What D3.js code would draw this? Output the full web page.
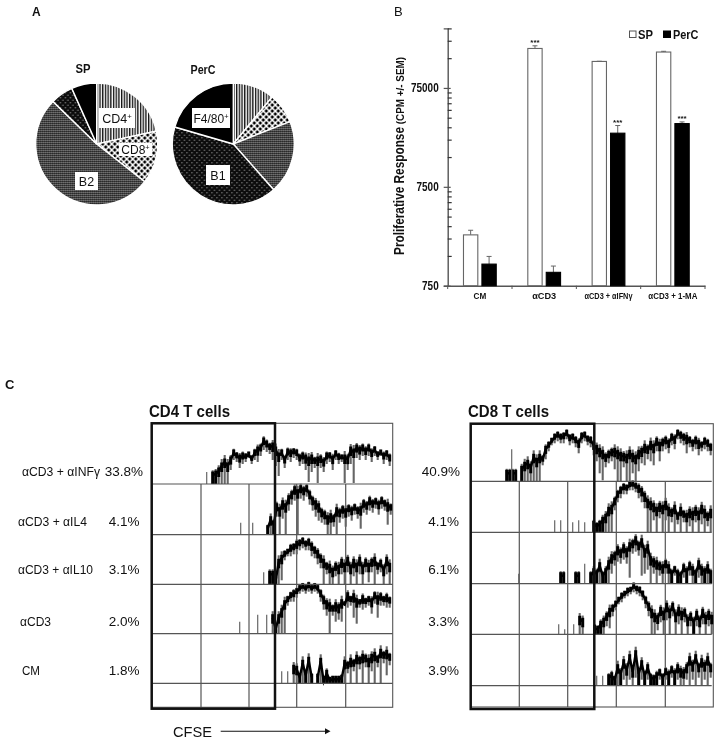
<!DOCTYPE html>
<html><head><meta charset="utf-8">
<script src="https://cdnjs.cloudflare.com/ajax/libs/d3/7.8.5/d3.min.js"></script>
<style>
html,body{margin:0;padding:0;background:#fff}
svg{display:block;filter:blur(0.45px)}
text{font-family:"Liberation Sans",Arial,sans-serif;fill:#111}
</style></head><body><div id="c"></div>
<script>
// ---------- Panel A ----------
const spLabels=["CD4","CD8","B2","B1","F4/80"];
const spValues=[21.6,14,51.7,6,6.7];
const percValues=[11,8,19.5,41,20.5];
// ---------- Panel B ----------
const conditions=["CM","αCD3","αCD3 + αIFNγ","αCD3 + 1-MA"];
const conditionWidths=[12.7,24,48,49];
const tissues=["SP","PerC"];
const spMeans=[2449,188000,139000,173000];
const spTops=[2727,200000,139600,176000];
const percMeans=[1240,1024,26150,32700];
const percTops=[1483,1185,31250,34000];
const spSignif=[false,true,false,false];
const percSignif=[false,false,true,true];
const majorTicks=[750,7500,75000];
const minorTicks=[1500,2250,3000,3750,4500,5250,6000,6750,15000,22500,30000,37500,45000,52500,60000,67500,150000,225000,300000];
// ---------- Panel C ----------
const treatments=["αCD3 + αINFγ","αCD3 + αIL4","αCD3 + αIL10","αCD3","CM"];
const cd4Percent=["33.8%","4.1%","3.1%","2.0%","1.8%"];
const cd8Percent=["40.9%","4.1%","6.1%","3.3%","3.9%"];
// histogram heights read every 3 channels; first = first channel with events
const cd4Start=[55,89,112,88,130];
const cd4Core=[
[12,0,11,12,15,20,24,20,26,33,30,28,30,29,31,27,33,36,38,45,42,39,40,36,30,33,26,34,33,34,33,28,30,28,26,28,25,26,27,24,30,30,27,32,29,28,28,27,36,34,38,36,38,35,38,33,36,31,33,30,32,28],
[12,0,0,0,12,0,0,0,0,8,17,12,30,26,33,30,38,42,47,44,48,46,48,42,36,33,30,24,22,18,20,18,26,24,27,25,28,26,29,26,27,33,31,36,33,35,32,36,33,31,29],
[12,0,12,12,6,24,28,32,34,38,39,42,43,45,42,44,40,36,33,28,24,20,19,15,20,18,24,20,26,18,24,20,26,18,24,20,24,26,20,23,16,26,20],
[12,0,0,0,0,0,19,0,0,19,0,18,7,18,24,32,36,40,42,44,47,49,47,50,47,49,47,42,36,32,30,27,30,28,33,31,40,36,39,34,33,37,34,36,34,40,37,39,36,38,35],
[12,0,12,0,17,16,8,22,10,25,8,0,8,24,4,12,5,6,6,6,7,22,20,24,22,27,25,28,27,24,28,30,26,33,30,32,28]];
const cd4Dip=[
[0,0,0,0,0,0,0,0,14,24,22,16,20,22,26,20,24,22,28,34,32,30,24,18,8,24,16,24,22,26,24,18,20,14,2,12,16,1,16,12,20,22,14,24,20,22,1,14,20,1,26,24,28,24,28,22,28,24,28,20,24,18],
[0,0,0,0,0,0,0,0,0,0,0,0,18,0,16,0,24,30,34,0,36,34,38,30,24,18,14,12,10,0,0,8,0,12,16,8,18,14,20,16,6,22,20,24,22,26,20,26,24,10,20],
[0,0,0,0,0,0,4,24,28,28,30,30,34,36,34,34,28,26,20,16,0,10,0,0,8,0,10,0,12,0,8,0,10,0,12,2,12,0,10,12,0,10,0],
[0,0,0,0,0,0,0,0,0,0,0,0,0,0,0,0,28,32,32,36,40,42,40,42,40,42,40,32,24,18,0,18,12,14,12,28,26,28,16,10,26,24,26,28,20,30,16,28,28,26,26],
[0,0,0,0,0,0,0,0,0,0,0,0,0,0,0,0,0,0,0,0,0,0,10,0,12,0,14,0,16,0,12,0,16,0,20,8,18]];
const cd8Start=[36,84,48,88,126];
const cd8Core=[
[10,10,10,10,0,14,18,20,16,26,22,26,24,34,38,42,46,48,46,47,50,45,46,43,40,47,48,44,43,38,35,32,30,26,29,31,32,30,28,27,26,30,27,25,30,32,36,34,39,36,42,38,41,43,40,46,44,50,48,46,45,43,40,43,40,38,42,40,36],
[12,0,12,0,0,0,10,0,12,0,10,0,0,10,8,10,14,17,24,26,33,40,44,47,46,49,50,48,46,43,38,32,30,28,24,28,26,30,24,22,26,18,24,20,18,22,20,24,20,26,22,18,22],
[10,0,0,0,0,0,0,0,0,0,0,0,0,0,10,10,0,0,0,10,10,0,20,0,10,14,12,20,10,14,22,28,30,36,33,38,34,40,42,46,40,44,34,38,26,24,22,20,18,22,18,12,16,12,10,18,14,20,16,12,22,16,14,18,12],
[10,0,5,0,0,10,0,17,15,0,0,0,8,7,12,15,20,25,28,32,36,40,42,45,46,50,47,46,42,36,30,24,20,18,26,22,30,24,30,20,26,22,24,16,20,14,22,15,24,18,22,18],
[10,0,10,0,10,12,8,20,14,25,18,30,16,34,14,24,12,20,10,9,12,15,10,16,13,18,14,20,16,15,20,28,22,30,20,26,22,28,20]];
const cd8Dip=[
[0,0,0,0,0,0,0,0,0,0,0,0,16,22,30,36,38,40,38,38,42,36,38,34,28,38,40,36,34,26,20,8,1,14,18,20,12,0,0,14,0,0,8,0,10,18,16,22,20,16,30,20,30,32,28,36,32,42,38,36,28,34,30,32,26,30,32,30,26],
[0,0,0,0,0,0,0,0,0,0,0,0,0,0,0,0,0,0,0,0,22,30,34,38,38,42,42,40,34,30,24,0,0,12,0,14,0,12,0,10,0,8,0,10,0,6,0,10,0,8,0,6,0],
[0,0,0,0,0,0,0,0,0,0,0,0,0,0,0,0,0,0,0,0,0,0,0,0,0,0,0,0,0,0,0,10,18,22,20,24,20,6,30,32,28,8,10,14,0,10,0,8,0,10,0,0,8,0,0,6,0,8,0,0,6,0,0,0,0],
[0,0,0,0,0,0,0,0,0,0,0,0,0,0,0,0,8,6,18,24,30,32,36,38,40,42,40,38,34,26,18,0,0,4,12,0,14,0,18,0,10,0,12,0,8,0,8,0,10,0,8,0],
[0,0,0,0,0,0,0,0,0,6,0,6,0,8,0,6,0,6,0,0,0,6,0,6,0,8,0,6,0,0,6,0,6,0,8,0,6,0,8]];
const cd8SpikeChannel=[41], cd8SpikeHeight=[32];

// ---------- layout ----------
const W=721,H=744;
const svg=d3.select("#c").append("svg").attr("width",W).attr("height",H);
const defs=svg.append("defs");
function pat(id,w,h,bg,draw){
  const p=defs.append("pattern").attr("id",id).attr("patternUnits","userSpaceOnUse").attr("width",w).attr("height",h);
  p.append("rect").attr("width",w).attr("height",h).attr("fill",bg);
  draw(p);
}
pat("stripes",2.7,3,"#fff",p=>p.append("rect").attr("width",1.35).attr("height",3).attr("fill","#111"));
pat("diamonds",6,6,"#fff",p=>{
  [[0,0],[6,0],[0,6],[6,6],[3,3]].forEach(c=>p.append("path")
    .attr("d",`M${c[0]-1.9},${c[1]}L${c[0]},${c[1]-1.9}L${c[0]+1.9},${c[1]}L${c[0]},${c[1]+1.9}Z`).attr("fill","#000"));
});
pat("gray",2,2,"#4a4a4a",p=>{
  p.append("rect").attr("width",1).attr("height",1).attr("fill","#7f7f7f");
  p.append("rect").attr("x",1).attr("y",1).attr("width",1).attr("height",1).attr("fill","#1c1c1c");
});
pat("dots",5,5,"#0c0c0c",p=>{
  [[1.2,1.2],[3.7,3.7]].forEach(c=>p.append("circle").attr("cx",c[0]).attr("cy",c[1]).attr("r",.7).attr("fill","#8c8c8c"));
});
const sliceFills=["url(#stripes)","url(#diamonds)","url(#gray)","url(#dots)","#000"];

// ---------- A ----------
const txt=(x,y,s,o={})=>{
  const t=svg.append("text").attr("x",x).attr("y",y).text(s)
    .attr("font-size",o.size||12).attr("font-weight",o.weight||"normal").attr("text-anchor",o.anchor||"start");
  if(o.len){t.attr("textLength",o.len).attr("lengthAdjust","spacingAndGlyphs");}
  return t;
};
txt(32,16,"A",{size:12,weight:"bold"});
txt(394,16,"B",{size:13});
txt(5,389,"C",{size:13,weight:"bold"});
const pie=d3.pie().sort(null);
const arc=d3.arc().innerRadius(0).outerRadius(61);
function drawPie(vals,cx,cy){
  const g=svg.append("g").attr("transform",`translate(${cx},${cy})`);
  g.selectAll("path").data(pie(vals)).join("path").attr("d",arc)
    .attr("fill",(d,i)=>sliceFills[i]).attr("stroke","#fff").attr("stroke-width",1.4);
}
drawPie(spValues,96.7,144);
drawPie(percValues,233.3,144);
txt(83,73,"SP",{size:12,weight:"bold",anchor:"middle",len:15});
txt(203,74,"PerC",{size:12,weight:"bold",anchor:"middle",len:25});
function box(x,y,w,h,label,sup,size){
  svg.append("rect").attr("x",x).attr("y",y).attr("width",w).attr("height",h).attr("fill","#fff");
  const t=svg.append("text").attr("x",x+w/2).attr("y",y+h/2+4.5).attr("text-anchor","middle").attr("font-size",size);
  t.append("tspan").text(label);
  if(sup)t.append("tspan").text("+").attr("font-size",size*.62).attr("dy",-4);
}
box(99,108,36,20,spLabels[0],true,12.5);
box(119,143,33,13,spLabels[1],true,12);
box(75,172,23,18,"B2",false,12.5);
box(192,108,38,20,spLabels[4],true,12);
box(206,165,24,20,spLabels[3],false,12.5);

// ---------- B ----------
const y=d3.scaleLog().domain([750,300000]).range([285.7,28.4]);
const x0=d3.scaleBand().domain(conditions).range([447.7,705]);
const x1=d3.scaleBand().domain(tissues).range([0,x0.bandwidth()]).paddingInner(.223).paddingOuter(.856);
const axisCol="#555";
const majG=svg.append("g").attr("transform","translate(447.7,0)")
  .call(d3.axisLeft(y).tickValues(majorTicks).tickSize(4).tickFormat(d3.format("d")));
majG.selectAll(".domain").attr("stroke",axisCol).attr("stroke-width",1.4);
majG.selectAll("line").attr("stroke",axisCol).attr("x2",-4).attr("x1",3).attr("stroke-width",1.2);
majG.selectAll("text").attr("font-size",12.5).attr("font-weight","bold").attr("x",-9).attr("font-family",'"Liberation Sans"')
  .each(function(d){d3.select(this).attr("textLength",String(d).length*5.55).attr("lengthAdjust","spacingAndGlyphs");});
const minG=svg.append("g").attr("transform","translate(447.7,0)")
  .call(d3.axisRight(y).tickValues(minorTicks).tickSize(4).tickFormat(""));
minG.select(".domain").remove();
minG.selectAll("line").attr("stroke","#333").attr("stroke-width",1.2);
const xAx=svg.append("g").attr("transform","translate(0,285.7)")
  .call(d3.axisBottom(x0).tickSize(0).tickPadding(7));
xAx.select(".domain").attr("stroke",axisCol).attr("stroke-width",1.4);
xAx.selectAll("text").attr("font-size",9).attr("font-weight","bold").attr("font-family",'"Liberation Sans"')
  .each(function(d,i){d3.select(this).attr("textLength",conditionWidths[i]).attr("lengthAdjust","spacingAndGlyphs");});
svg.append("g").selectAll("line").data([...conditions.map(c=>x0(c)),x0.range()[1]]).join("line")
  .attr("x1",d=>d).attr("x2",d=>d).attr("y1",285.7).attr("y2",289).attr("stroke",axisCol);
const bars=[];
conditions.forEach((c,i)=>{
  bars.push({c,t:"SP",v:spMeans[i],top:spTops[i],sig:spSignif[i]});
  bars.push({c,t:"PerC",v:percMeans[i],top:percTops[i],sig:percSignif[i]});
});
const bx=d=>x0(d.c)+x1(d.t);
const cx=d=>bx(d)+x1.bandwidth()/2;
svg.append("g").selectAll("path").data(bars).join("path")
  .attr("d",d=>`M${cx(d)},${y(d.v)}V${y(d.top)}M${cx(d)-2.5},${y(d.top)}H${cx(d)+2.5}`)
  .attr("stroke","#666").attr("fill","none");
svg.append("g").selectAll("rect").data(bars).join("rect")
  .attr("x",bx).attr("width",x1.bandwidth()).attr("y",d=>y(d.v)).attr("height",d=>y(750)-y(d.v))
  .attr("fill",d=>d.t==="SP"?"#fff":"#000").attr("stroke",d=>d.t==="SP"?"#666":"#000").attr("stroke-width",1.1);
svg.append("g").selectAll("text").data(bars.filter(d=>d.sig)).join("text")
  .attr("x",cx).attr("y",d=>y(d.top)-1).attr("text-anchor","middle").attr("font-size",8).attr("font-weight","bold")
  .attr("fill","#444").text("***");
const yl=svg.append("text").attr("transform","translate(404,255) rotate(-90)").attr("font-weight","bold");
yl.append("tspan").text("Proliferative Response").attr("font-size",14).attr("textLength",128).attr("lengthAdjust","spacingAndGlyphs");
yl.append("tspan").text(" (CPM +/- SEM)").attr("font-size",11).attr("textLength",70).attr("lengthAdjust","spacingAndGlyphs");
// legend
svg.append("rect").attr("x",629.5).attr("y",31).attr("width",6.5).attr("height",6.5).attr("fill","#fff").attr("stroke","#555");
txt(638,39,tissues[0],{size:12.5,weight:"bold",len:15});
svg.append("rect").attr("x",663).attr("y",30.5).attr("width",8).attr("height",7.5).attr("fill","#000");
txt(673,39,tissues[1],{size:12.5,weight:"bold",len:25.5});

// ---------- C ----------
txt(149,417,"CD4 T cells",{size:16,weight:"bold",len:81});
txt(468,417,"CD8 T cells",{size:16,weight:"bold",len:81});
const labelX=[22,18,18,20,22], labelY=[476,526,574,626,675], labelLen=[78,69,75,31,18];
treatments.forEach((t,i)=>{
  txt(labelX[i],labelY[i],t,{size:13.5,len:labelLen[i]});
  txt(143-(i==0?0:3.5),labelY[i],cd4Percent[i],{size:13.5,anchor:"end"});
  txt(460-(i==0?0:1),labelY[i],cd8Percent[i],{size:13.5,anchor:"end"});
});
const lineCol="#555";
function panel(p){
  const g=svg.append("g");
  const x=d3.scaleLinear().domain([0,241]).range([p.left,p.left+241]);
  g.append("rect").attr("x",p.left).attr("y",p.top).attr("width",p.right-p.left).attr("height",p.bottom-p.top)
    .attr("fill","none").attr("stroke",lineCol).attr("stroke-width",1.1);
  p.vlines.forEach(v=>g.append("line").attr("x1",v).attr("x2",v).attr("y1",p.bases[0]).attr("y2",p.bottom).attr("stroke",lineCol).attr("stroke-width",1.2));
  p.core.forEach((c,r)=>{
    const base=p.bases[r];
    const yy=d3.scaleLinear().domain([0,60]).range([base,base-60]);
    const rows=c.map((v,i)=>({ch:p.start[r]+i*3,v,d:p.dip[r][i]||0,
      iso:!(c[i-1]>0)&&!(c[i+1]>0)}));
    const live=rows.filter(d=>d.v>0);
    // gray spikes: dip up past the band
    g.append("g").selectAll("line").data(live).join("line")
      .attr("x1",d=>x(d.ch)).attr("x2",d=>x(d.ch)).attr("y1",d=>yy(d.d))
      .attr("y2",d=>yy(d.iso?d.v:d.v+Math.min(5,(d.v-d.d)*.25)))
      .attr("stroke","#666").attr("stroke-width",d=>d.iso?1.2:2.1);
    // dense black band
    g.append("g").selectAll("line").data(live.filter(d=>!d.iso)).join("line")
      .attr("x1",d=>x(d.ch)).attr("x2",d=>x(d.ch))
      .attr("y1",d=>yy(d.v<=14?0:Math.max(0,d.v-Math.min(8,(d.v-d.d)*.55))))
      .attr("y2",d=>yy(d.v+1.5))
      .attr("stroke","#000").attr("stroke-width",3);
    g.append("path").attr("d",d3.line().defined(d=>d.v>0&&!d.iso).x(d=>x(d.ch)).y(d=>yy(d.v-2))(rows))
      .attr("fill","none").attr("stroke","#000").attr("stroke-width",2.4);
  });
  p.bases.forEach(b=>g.append("line").attr("x1",p.left).attr("x2",p.hEnd).attr("y1",b).attr("y2",b).attr("stroke",lineCol).attr("stroke-width",1.2));
  (p.spikes||[]).forEach(s=>g.append("line").attr("x1",x(s.ch)).attr("x2",x(s.ch)).attr("y1",p.bases[s.r]).attr("y2",p.bases[s.r]-s.h).attr("stroke","#666").attr("stroke-width",1.2));
  g.append("rect").attr("x",p.left).attr("y",p.top).attr("width",p.gate-p.left).attr("height",p.gateBottom-p.top)
    .attr("fill","none").attr("stroke","#111").attr("stroke-width",2.5);
}
panel({left:151.7,right:392.7,top:423.3,bottom:707.3,hEnd:392.7,gate:275,gateBottom:708.7,
  bases:[484,534.7,584.3,633.7,683.3],vlines:[201,249,296.7,345.7],core:cd4Core,dip:cd4Dip,start:cd4Start});
panel({left:470.7,right:713.3,top:423.7,bottom:707,hEnd:711.7,gate:594.3,gateBottom:709,
  bases:[481.3,532.3,583.7,634.3,685.7],vlines:[519.3,567.7,616.3,665.3],core:cd8Core,dip:cd8Dip,start:cd8Start,
  spikes:cd8SpikeChannel.map((ch,i)=>({ch,r:0,h:cd8SpikeHeight[i]}))});
txt(173,737,"CFSE",{size:15.5,len:39});
svg.append("line").attr("x1",220.7).attr("x2",328).attr("y1",731.3).attr("y2",731.3).attr("stroke","#111").attr("stroke-width",1.1);
svg.append("path").attr("d","M325,728.3L330.5,731.3L325,734.3Z").attr("fill","#111");
</script></body></html>
